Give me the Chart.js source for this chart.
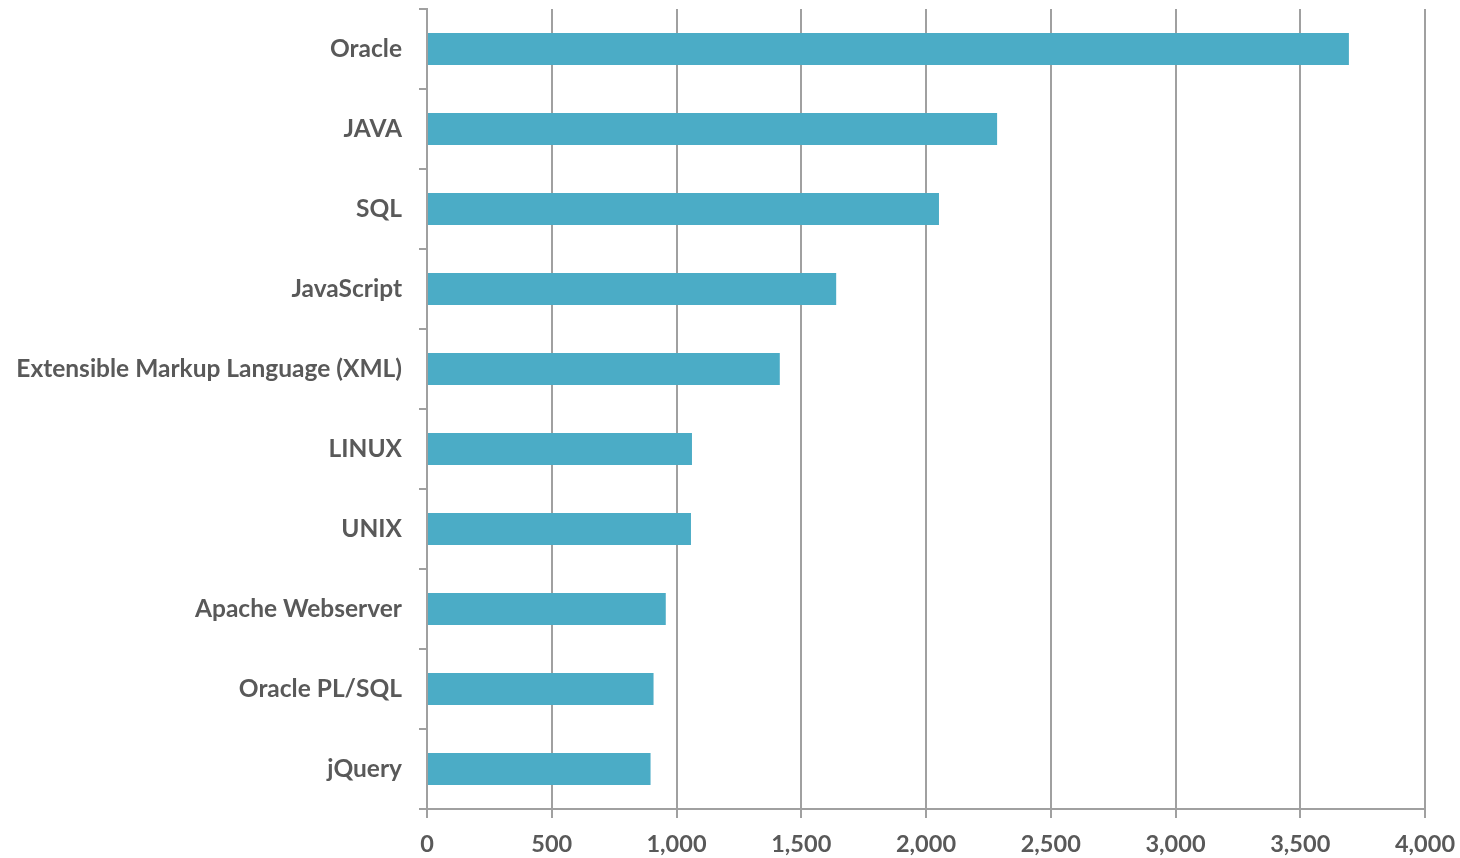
<!DOCTYPE html>
<html>
<head>
<meta charset="utf-8">
<script src="https://cdn.jsdelivr.net/npm/chart.js@4"></script>
<style>
  html, body { margin: 0; padding: 0; background: #ffffff; }
  #wrap { width: 1460px; height: 858px; position: relative; }
</style>
</head>
<body>
<div id="wrap"><canvas id="c"></canvas></div>
<script>
const categories = [
  "Oracle", "JAVA", "SQL", "JavaScript", "Extensible Markup Language (XML)",
  "LINUX", "UNIX", "Apache Webserver", "Oracle PL/SQL", "jQuery"
];
const values = [3695, 2285, 2052, 1640, 1414, 1062, 1058, 957, 908, 896];
const xMin = 0;
const xMax = 4000;
const xStep = 500;

const textColor = "#595959";
const gridColor = "#a0a0a0";
const fontFamily = "Lato, 'Open Sans', sans-serif";

new Chart(document.getElementById("c"), {
  type: "bar",
  data: {
    labels: categories,
    datasets: [{
      data: values,
      backgroundColor: "#4BACC6",
      borderWidth: 0,
      barPercentage: 0.4,
      categoryPercentage: 1.0
    }]
  },
  options: {
    indexAxis: "y",
    responsive: true,
    maintainAspectRatio: false,
    animation: false,
    layout: { padding: { top: 9, right: 35, bottom: 0, left: 0 } },
    plugins: { legend: { display: false }, tooltip: { enabled: false } },
    scales: {
      x: {
        min: xMin,
        max: xMax,
        ticks: {
          stepSize: xStep,
          color: textColor,
          padding: 12,
          font: { family: fontFamily, size: 23.5, weight: "bold" },
          callback: v => v.toLocaleString("en-US")
        },
        grid: {
          color: gridColor,
          lineWidth: 2,
          tickLength: 9,
          drawTicks: true
        },
        border: { display: true, color: gridColor, width: 2 },
        afterFit: s => { s.height = 49; s.paddingLeft = 0; s.paddingRight = 0; }
      },
      y: {
        ticks: {
          color: textColor,
          padding: 17,
          font: { family: fontFamily, size: 24.5, weight: "bold" }
        },
        grid: {
          offset: true,
          drawOnChartArea: false,
          color: gridColor,
          lineWidth: 2,
          tickLength: 8
        },
        border: { display: true, color: gridColor, width: 2 },
        afterFit: s => { s.width = 427; s.paddingTop = 0; s.paddingBottom = 0; }
      }
    }
  }
});
</script>
</body>
</html>
